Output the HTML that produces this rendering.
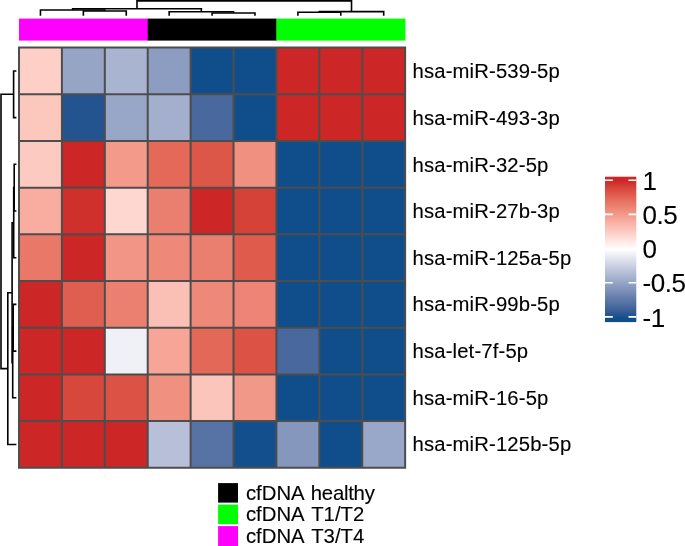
<!DOCTYPE html>
<html><head><meta charset="utf-8"><title>heatmap</title>
<style>html,body{margin:0;padding:0;background:#fff}svg{display:block}text{font-family:"Liberation Sans",Arial,Helvetica,sans-serif;fill:#000;stroke:#000;stroke-width:0.12px}</style></head><body>
<svg width="685" height="546" viewBox="0 0 685 546">
<rect width="685" height="546" fill="#fff"/>
<rect x="19.00" y="18.6" width="129.02" height="22" fill="#FF00FF"/>
<rect x="147.72" y="18.6" width="129.02" height="22" fill="#000000"/>
<rect x="276.43" y="18.6" width="129.02" height="22" fill="#00FF00"/>
<rect x="19.00" y="47.60" width="42.91" height="46.69" fill="#FDCFC6"/>
<rect x="61.91" y="47.60" width="42.91" height="46.69" fill="#96A4C6"/>
<rect x="104.81" y="47.60" width="42.91" height="46.69" fill="#A9B4D0"/>
<rect x="147.72" y="47.60" width="42.91" height="46.69" fill="#8D9DC1"/>
<rect x="190.62" y="47.60" width="42.91" height="46.69" fill="#104E8B"/>
<rect x="233.53" y="47.60" width="42.91" height="46.69" fill="#104E8B"/>
<rect x="276.43" y="47.60" width="42.91" height="46.69" fill="#CD2626"/>
<rect x="319.34" y="47.60" width="42.91" height="46.69" fill="#CD2626"/>
<rect x="362.24" y="47.60" width="42.91" height="46.69" fill="#CD2626"/>
<rect x="19.00" y="94.29" width="42.91" height="46.69" fill="#FCC8BE"/>
<rect x="61.91" y="94.29" width="42.91" height="46.69" fill="#235490"/>
<rect x="104.81" y="94.29" width="42.91" height="46.69" fill="#98A6C7"/>
<rect x="147.72" y="94.29" width="42.91" height="46.69" fill="#A3AFCD"/>
<rect x="190.62" y="94.29" width="42.91" height="46.69" fill="#49699E"/>
<rect x="233.53" y="94.29" width="42.91" height="46.69" fill="#104E8B"/>
<rect x="276.43" y="94.29" width="42.91" height="46.69" fill="#CD2626"/>
<rect x="319.34" y="94.29" width="42.91" height="46.69" fill="#CD2626"/>
<rect x="362.24" y="94.29" width="42.91" height="46.69" fill="#CD2626"/>
<rect x="19.00" y="140.98" width="42.91" height="46.69" fill="#FDCAC1"/>
<rect x="61.91" y="140.98" width="42.91" height="46.69" fill="#CD2626"/>
<rect x="104.81" y="140.98" width="42.91" height="46.69" fill="#F39A8B"/>
<rect x="147.72" y="140.98" width="42.91" height="46.69" fill="#E46959"/>
<rect x="190.62" y="140.98" width="42.91" height="46.69" fill="#DD5749"/>
<rect x="233.53" y="140.98" width="42.91" height="46.69" fill="#F09080"/>
<rect x="276.43" y="140.98" width="42.91" height="46.69" fill="#104E8B"/>
<rect x="319.34" y="140.98" width="42.91" height="46.69" fill="#104E8B"/>
<rect x="362.24" y="140.98" width="42.91" height="46.69" fill="#104E8B"/>
<rect x="19.00" y="187.67" width="42.91" height="46.69" fill="#F8ADA0"/>
<rect x="61.91" y="187.67" width="42.91" height="46.69" fill="#D0302C"/>
<rect x="104.81" y="187.67" width="42.91" height="46.69" fill="#FED7D0"/>
<rect x="147.72" y="187.67" width="42.91" height="46.69" fill="#EB7F6F"/>
<rect x="190.62" y="187.67" width="42.91" height="46.69" fill="#CD2626"/>
<rect x="233.53" y="187.67" width="42.91" height="46.69" fill="#D54237"/>
<rect x="276.43" y="187.67" width="42.91" height="46.69" fill="#104E8B"/>
<rect x="319.34" y="187.67" width="42.91" height="46.69" fill="#104E8B"/>
<rect x="362.24" y="187.67" width="42.91" height="46.69" fill="#104E8B"/>
<rect x="19.00" y="234.36" width="42.91" height="46.69" fill="#E97868"/>
<rect x="61.91" y="234.36" width="42.91" height="46.69" fill="#CD2626"/>
<rect x="104.81" y="234.36" width="42.91" height="46.69" fill="#F29586"/>
<rect x="147.72" y="234.36" width="42.91" height="46.69" fill="#EE8878"/>
<rect x="190.62" y="234.36" width="42.91" height="46.69" fill="#EB7F6F"/>
<rect x="233.53" y="234.36" width="42.91" height="46.69" fill="#DF5C4D"/>
<rect x="276.43" y="234.36" width="42.91" height="46.69" fill="#104E8B"/>
<rect x="319.34" y="234.36" width="42.91" height="46.69" fill="#104E8B"/>
<rect x="362.24" y="234.36" width="42.91" height="46.69" fill="#104E8B"/>
<rect x="19.00" y="281.04" width="42.91" height="46.69" fill="#CD2626"/>
<rect x="61.91" y="281.04" width="42.91" height="46.69" fill="#E05E4F"/>
<rect x="104.81" y="281.04" width="42.91" height="46.69" fill="#EB8070"/>
<rect x="147.72" y="281.04" width="42.91" height="46.69" fill="#FBC0B5"/>
<rect x="190.62" y="281.04" width="42.91" height="46.69" fill="#EE8878"/>
<rect x="233.53" y="281.04" width="42.91" height="46.69" fill="#ED8475"/>
<rect x="276.43" y="281.04" width="42.91" height="46.69" fill="#104E8B"/>
<rect x="319.34" y="281.04" width="42.91" height="46.69" fill="#104E8B"/>
<rect x="362.24" y="281.04" width="42.91" height="46.69" fill="#104E8B"/>
<rect x="19.00" y="327.73" width="42.91" height="46.69" fill="#CD2626"/>
<rect x="61.91" y="327.73" width="42.91" height="46.69" fill="#CD2626"/>
<rect x="104.81" y="327.73" width="42.91" height="46.69" fill="#F0F1F7"/>
<rect x="147.72" y="327.73" width="42.91" height="46.69" fill="#F6A597"/>
<rect x="190.62" y="327.73" width="42.91" height="46.69" fill="#E36858"/>
<rect x="233.53" y="327.73" width="42.91" height="46.69" fill="#DC5345"/>
<rect x="276.43" y="327.73" width="42.91" height="46.69" fill="#49699E"/>
<rect x="319.34" y="327.73" width="42.91" height="46.69" fill="#104E8B"/>
<rect x="362.24" y="327.73" width="42.91" height="46.69" fill="#104E8B"/>
<rect x="19.00" y="374.42" width="42.91" height="46.69" fill="#CD2626"/>
<rect x="61.91" y="374.42" width="42.91" height="46.69" fill="#D7473B"/>
<rect x="104.81" y="374.42" width="42.91" height="46.69" fill="#DC5345"/>
<rect x="147.72" y="374.42" width="42.91" height="46.69" fill="#F09080"/>
<rect x="190.62" y="374.42" width="42.91" height="46.69" fill="#FCC5BB"/>
<rect x="233.53" y="374.42" width="42.91" height="46.69" fill="#F29889"/>
<rect x="276.43" y="374.42" width="42.91" height="46.69" fill="#104E8B"/>
<rect x="319.34" y="374.42" width="42.91" height="46.69" fill="#104E8B"/>
<rect x="362.24" y="374.42" width="42.91" height="46.69" fill="#104E8B"/>
<rect x="19.00" y="421.11" width="42.91" height="46.69" fill="#CD2626"/>
<rect x="61.91" y="421.11" width="42.91" height="46.69" fill="#CD2626"/>
<rect x="104.81" y="421.11" width="42.91" height="46.69" fill="#CD2626"/>
<rect x="147.72" y="421.11" width="42.91" height="46.69" fill="#B7C0D8"/>
<rect x="190.62" y="421.11" width="42.91" height="46.69" fill="#5773A5"/>
<rect x="233.53" y="421.11" width="42.91" height="46.69" fill="#134F8C"/>
<rect x="276.43" y="421.11" width="42.91" height="46.69" fill="#8697BD"/>
<rect x="319.34" y="421.11" width="42.91" height="46.69" fill="#104E8B"/>
<rect x="362.24" y="421.11" width="42.91" height="46.69" fill="#99A7C8"/>
<path d="M18.00 47.60H406.15M19.00 46.60V468.80M18.00 94.29H406.15M61.91 46.60V468.80M18.00 140.98H406.15M104.81 46.60V468.80M18.00 187.67H406.15M147.72 46.60V468.80M18.00 234.36H406.15M190.62 46.60V468.80M18.00 281.04H406.15M233.53 46.60V468.80M18.00 327.73H406.15M276.43 46.60V468.80M18.00 374.42H406.15M319.34 46.60V468.80M18.00 421.11H406.15M362.24 46.60V468.80M18.00 467.80H406.15M405.15 46.60V468.80" fill="none" stroke="#4d4d4d" stroke-width="2"/>
<path d="M83.36 15.7V11.0H126.26V15.7" fill="none" stroke="#000" stroke-width="1.6" stroke-linejoin="miter"/>
<path d="M40.45 15.7V10.0H104.81V11.0" fill="none" stroke="#000" stroke-width="1.6" stroke-linejoin="miter"/>
<path d="M212.07 15.7V13.0H254.98V15.7" fill="none" stroke="#000" stroke-width="1.6" stroke-linejoin="miter"/>
<path d="M169.17 15.7V11.8H233.53V13.0" fill="none" stroke="#000" stroke-width="1.6" stroke-linejoin="miter"/>
<path d="M72.63 10.0V8.7H201.35V11.8" fill="none" stroke="#000" stroke-width="1.6" stroke-linejoin="miter"/>
<path d="M297.89 15.7V12.3H340.79V15.7" fill="none" stroke="#000" stroke-width="1.6" stroke-linejoin="miter"/>
<path d="M319.34 12.3V11.6H383.70V15.7" fill="none" stroke="#000" stroke-width="1.6" stroke-linejoin="miter"/>
<path d="M136.99 8.7V0.9H351.52V11.6" fill="none" stroke="#000" stroke-width="1.6" stroke-linejoin="miter"/>
<path d="M16.4 70.94H13.6V117.63H16.4" fill="none" stroke="#000" stroke-width="1.6" stroke-linejoin="miter"/>
<path d="M16.4 164.32H14.2V211.01H16.4" fill="none" stroke="#000" stroke-width="1.6" stroke-linejoin="miter"/>
<path d="M14.2 187.67H13.7V257.70H16.4" fill="none" stroke="#000" stroke-width="1.6" stroke-linejoin="miter"/>
<path d="M16.4 304.39H13.2V351.08H16.4" fill="none" stroke="#000" stroke-width="1.6" stroke-linejoin="miter"/>
<path d="M13.2 327.73H12.7V397.77H16.4" fill="none" stroke="#000" stroke-width="1.6" stroke-linejoin="miter"/>
<path d="M13.7 222.68H12.1V362.75H12.7" fill="none" stroke="#000" stroke-width="1.6" stroke-linejoin="miter"/>
<path d="M12.1 292.72H7.8V444.46H16.4" fill="none" stroke="#000" stroke-width="1.6" stroke-linejoin="miter"/>
<path d="M13.6 94.29H1.0V368.59H7.8" fill="none" stroke="#000" stroke-width="1.6" stroke-linejoin="miter"/>
<text transform="translate(412.5 78.30) scale(1.04 1)" letter-spacing="0.15" font-size="19.5">hsa-miR-539-5p</text>
<text transform="translate(412.5 124.93) scale(1.04 1)" letter-spacing="0.15" font-size="19.5">hsa-miR-493-3p</text>
<text transform="translate(412.5 171.56) scale(1.04 1)" letter-spacing="0.15" font-size="19.5">hsa-miR-32-5p</text>
<text transform="translate(412.5 218.19) scale(1.04 1)" letter-spacing="0.15" font-size="19.5">hsa-miR-27b-3p</text>
<text transform="translate(412.5 264.82) scale(1.04 1)" letter-spacing="0.15" font-size="19.5">hsa-miR-125a-5p</text>
<text transform="translate(412.5 311.45) scale(1.04 1)" letter-spacing="0.15" font-size="19.5">hsa-miR-99b-5p</text>
<text transform="translate(412.5 358.08) scale(1.04 1)" letter-spacing="0.15" font-size="19.5">hsa-let-7f-5p</text>
<text transform="translate(412.5 404.71) scale(1.04 1)" letter-spacing="0.15" font-size="19.5">hsa-miR-16-5p</text>
<text transform="translate(412.5 451.34) scale(1.04 1)" letter-spacing="0.15" font-size="19.5">hsa-miR-125b-5p</text>
<defs><linearGradient id="g" x1="0" y1="0" x2="0" y2="1"><stop offset="0.000" stop-color="#CD2626"/><stop offset="0.025" stop-color="#CD2626"/><stop offset="0.050" stop-color="#D1352F"/><stop offset="0.075" stop-color="#D64439"/><stop offset="0.100" stop-color="#DB5144"/><stop offset="0.125" stop-color="#DF5D4E"/><stop offset="0.150" stop-color="#E46959"/><stop offset="0.175" stop-color="#E77464"/><stop offset="0.200" stop-color="#EB7F6F"/><stop offset="0.225" stop-color="#EE8A7A"/><stop offset="0.250" stop-color="#F29586"/><stop offset="0.275" stop-color="#F49F91"/><stop offset="0.300" stop-color="#F7AA9D"/><stop offset="0.325" stop-color="#F9B5A9"/><stop offset="0.350" stop-color="#FBBFB5"/><stop offset="0.375" stop-color="#FDCAC1"/><stop offset="0.400" stop-color="#FED4CD"/><stop offset="0.425" stop-color="#FFDFD9"/><stop offset="0.450" stop-color="#FFEAE6"/><stop offset="0.475" stop-color="#FFF4F2"/><stop offset="0.500" stop-color="#FFFFFF"/><stop offset="0.525" stop-color="#F3F5F9"/><stop offset="0.550" stop-color="#E8EAF2"/><stop offset="0.575" stop-color="#DCE0EC"/><stop offset="0.600" stop-color="#D1D6E6"/><stop offset="0.625" stop-color="#C5CCE0"/><stop offset="0.650" stop-color="#BAC2D9"/><stop offset="0.675" stop-color="#AFB9D3"/><stop offset="0.700" stop-color="#A3AFCD"/><stop offset="0.725" stop-color="#98A6C7"/><stop offset="0.750" stop-color="#8C9CC1"/><stop offset="0.775" stop-color="#8193BB"/><stop offset="0.800" stop-color="#758AB5"/><stop offset="0.825" stop-color="#6980AE"/><stop offset="0.850" stop-color="#5D77A8"/><stop offset="0.875" stop-color="#516FA2"/><stop offset="0.900" stop-color="#44669C"/><stop offset="0.925" stop-color="#365D96"/><stop offset="0.950" stop-color="#255590"/><stop offset="0.975" stop-color="#104E8B"/><stop offset="1.000" stop-color="#104E8B"/></linearGradient></defs>
<rect x="605" y="176.7" width="31.3" height="145.4" fill="url(#g)"/>
<path d="M605 180.2H612.8M628.5 180.2H636.3" stroke="#fff" stroke-width="1.6"/>
<text transform="translate(642.4 189.8)" letter-spacing="-0.4" font-size="26">1</text>
<path d="M605 214.4H612.8M628.5 214.4H636.3" stroke="#fff" stroke-width="1.6"/>
<text transform="translate(642.4 224.0)" letter-spacing="-0.4" font-size="26">0.5</text>
<path d="M605 248.6H612.8M628.5 248.6H636.3" stroke="#fff" stroke-width="1.6"/>
<text transform="translate(642.4 258.2)" letter-spacing="-0.4" font-size="26">0</text>
<path d="M605 282.7H612.8M628.5 282.7H636.3" stroke="#fff" stroke-width="1.6"/>
<text transform="translate(642.4 292.3)" letter-spacing="-0.4" font-size="26">-0.5</text>
<path d="M605 316.9H612.8M628.5 316.9H636.3" stroke="#fff" stroke-width="1.6"/>
<text transform="translate(642.4 326.5)" letter-spacing="-0.4" font-size="26">-1</text>
<rect x="218.1" y="483.10" width="19.9" height="19.5" fill="#000000"/>
<text transform="translate(245.9 499.90) scale(1.017 1)" font-size="20">cfDNA <tspan dx="1.6" letter-spacing="-0.25">healthy</tspan></text>
<rect x="218.1" y="504.60" width="19.9" height="19.5" fill="#00FF00"/>
<text transform="translate(245.9 521.40) scale(1.017 1)" font-size="20">cfDNA <tspan dx="2.0" letter-spacing="0">T1/T2</tspan></text>
<rect x="218.1" y="526.10" width="19.9" height="20.5" fill="#FF00FF"/>
<text transform="translate(245.9 542.90) scale(1.017 1)" font-size="20">cfDNA <tspan dx="2.0" letter-spacing="0">T3/T4</tspan></text>
</svg></body></html>
